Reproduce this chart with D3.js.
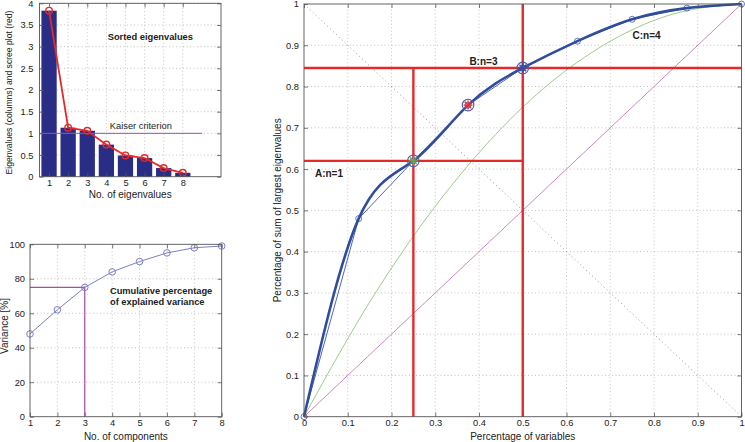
<!DOCTYPE html>
<html><head><meta charset="utf-8">
<script src="https://cdn.jsdelivr.net/npm/d3@7"></script>
<style>
body{margin:0;background:#fff}
svg{display:block}
text{font-family:"Liberation Sans",Arial,Helvetica,sans-serif;fill:#222}
</style></head>
<body><svg id="c" width="745" height="442"></svg>
<script>
// ---------- data ----------
const eigIndex = [1, 2, 3, 4, 5, 6, 7, 8];
const eigenvalues = [3.83, 1.13, 1.06, 0.74, 0.49, 0.43, 0.20, 0.09];
const kaiserLevel = 1;
const components = [1, 2, 3, 4, 5, 6, 7, 8];
const cumVariance = [48, 62, 75, 84, 90, 95, 98, 99];
const chosenComp = 3, chosenVar = 75;
const fracVars = [0, 0.125, 0.25, 0.375, 0.5, 0.625, 0.75, 0.875, 1];
const fracEig = [0, 0.48, 0.62, 0.755, 0.845, 0.91, 0.963, 0.99, 1];
const greenCurve = [0, 0.234, 0.4375, 0.609, 0.75, 0.859, 0.9375, 0.984, 1];
const guideH = [{y: 0.62, x1: 0, x2: 0.5}, {y: 0.845, x1: 0, x2: 1}];
const guideV = [{x: 0.25, y1: 0, y2: 0.845}, {x: 0.5, y1: 0, y2: 1}];
const points = [
  {label: "A:n=1", x: 0.25, y: 0.62, color: "#6aa84f", lx: 0.025, ly: 0.58},
  {label: "B:n=3", x: 0.375, y: 0.755, color: "#e53030", lx: 0.378, ly: 0.853},
  {label: "C:n=4", x: 0.5, y: 0.845, color: "#3a4fa0", lx: 0.751, ly: 0.916}
];
const ticks01 = [0, 0.1, 0.2, 0.3, 0.4, 0.5, 0.6, 0.7, 0.8, 0.9, 1];
const ticksEig = [0, 0.5, 1, 1.5, 2, 2.5, 3, 3.5, 4];
const ticksVar = [0, 20, 40, 60, 80, 100];

const svg = d3.select("#c");
const FONT = 9.3;

function frame(g, x, y, gridX, gridY) {
  const [x0, x1] = x.range(), [y0, y1] = y.range();
  const grid = g.append("g");
  (gridX || []).forEach(v => grid.append("line").attr("x1", x(v)).attr("x2", x(v)).attr("y1", y0).attr("y2", y1)
    .attr("stroke", "#b5b5b5").attr("stroke-width", 0.8).attr("stroke-dasharray", "1,2.5"));
  (gridY || []).forEach(v => grid.append("line").attr("y1", y(v)).attr("y2", y(v)).attr("x1", x0).attr("x2", x1)
    .attr("stroke", "#b5b5b5").attr("stroke-width", 0.8).attr("stroke-dasharray", "1,2.5"));
  return grid;
}
function axesBox(g, x, y, xt, yt, xfmt, yfmt, padX, padY) {
  const [x0, x1] = x.range(), [y0, y1] = y.range();
  const ax = g.append("g");
  ax.append("g").attr("transform", `translate(0,${y0})`)
    .call(d3.axisBottom(x).tickValues(xt).tickSize(-4).tickPadding(padX).tickFormat(xfmt))
    .call(s => { s.select(".domain").remove(); });
  ax.append("g").attr("transform", `translate(0,${y1})`)
    .call(d3.axisTop(x).tickValues(xt).tickSize(-4).tickFormat(""))
    .call(s => { s.select(".domain").remove(); });
  ax.append("g").attr("transform", `translate(${x0},0)`)
    .call(d3.axisLeft(y).tickValues(yt).tickSize(-4).tickPadding(padY).tickFormat(yfmt))
    .call(s => { s.select(".domain").remove(); });
  ax.append("g").attr("transform", `translate(${x1},0)`)
    .call(d3.axisRight(y).tickValues(yt).tickSize(-4).tickFormat(""))
    .call(s => { s.select(".domain").remove(); });
  ax.selectAll(".tick line").attr("stroke", "#555").attr("stroke-width", 0.8);
  ax.selectAll(".tick text").attr("font-size", FONT).attr("font-family", "Liberation Sans, Arial, sans-serif").attr("fill", "#222");
  ax.append("rect").attr("x", x0).attr("y", y1).attr("width", x1 - x0).attr("height", y0 - y1)
    .attr("fill", "none").attr("stroke", "#555").attr("stroke-width", 0.9);
}
const fmtNum = d => d3.format("")(d);

// ---------- panel 1: eigenvalues ----------
{
  const x = d3.scaleLinear().domain([0.5, 10]).range([39.5, 221]);
  const y = d3.scaleLinear().domain([0, 4]).range([176.7, 3.3]);
  const g = svg.append("g");
  frame(g, x, y, eigIndex.slice(1), ticksEig.slice(1));
  const bw = x(0.8) - x(0);
  g.selectAll("rect.bar").data(eigenvalues).join("rect").attr("class", "bar")
    .attr("x", (d, i) => x(eigIndex[i]) - bw / 2).attr("width", bw)
    .attr("y", d => y(d)).attr("height", d => y(0) - y(d)).attr("fill", "#2a2d86");
  g.append("line").attr("x1", x(0.5)).attr("x2", x(9)).attr("y1", y(kaiserLevel)).attr("y2", y(kaiserLevel))
    .attr("stroke", "#a64cb4").attr("stroke-width", 1);
  const line = d3.line().x((d, i) => x(eigIndex[i])).y(d => y(d));
  g.append("path").attr("d", line(eigenvalues)).attr("fill", "none").attr("stroke", "#e52a2a").attr("stroke-width", 1.8);
  g.selectAll("circle.sc").data(eigenvalues).join("circle").attr("class", "sc")
    .attr("cx", (d, i) => x(eigIndex[i])).attr("cy", d => y(d)).attr("r", 3.3)
    .attr("fill", "none").attr("stroke", "#e52a2a").attr("stroke-width", 1.4);
  axesBox(g, x, y, eigIndex, ticksEig, fmtNum, fmtNum, 3, 6);
  g.append("text").attr("x", x(4.07)).attr("y", y(3.15)).attr("font-size", 9.3).attr("font-weight", "bold").text("Sorted eigenvalues");
  g.append("text").attr("x", x(4.18)).attr("y", y(1.1)).attr("font-size", 9.3).text("Kaiser criterion");
  g.append("text").attr("x", (39.5 + 221) / 2).attr("y", 198).attr("text-anchor", "middle").attr("font-size", 10).text("No. of eigenvalues");
  g.append("text").attr("transform", `translate(11.5,92.5) rotate(-90)`).attr("text-anchor", "middle").attr("font-size", 8.6)
    .text("Eigenvalues (columns) and scree plot (red)");
}

// ---------- panel 2: cumulative variance ----------
{
  const x = d3.scaleLinear().domain([1, 8]).range([30, 221.7]);
  const y = d3.scaleLinear().domain([0, 100]).range([416.7, 244.3]);
  const g = svg.append("g");
  frame(g, x, y, components.slice(1, -1), ticksVar.slice(1, -1));
  g.append("path").attr("d", d3.line()([[x(1), y(chosenVar)], [x(chosenComp), y(chosenVar)], [x(chosenComp), y(0)]]))
    .attr("fill", "none").attr("stroke", "#b04aa6").attr("stroke-width", 1.2);
  const line = d3.line().x((d, i) => x(components[i])).y(d => y(d));
  g.append("path").attr("d", line(cumVariance)).attr("fill", "none").attr("stroke", "#7b7fc4").attr("stroke-width", 1);
  g.selectAll("circle.cv").data(cumVariance).join("circle").attr("class", "cv")
    .attr("cx", (d, i) => x(components[i])).attr("cy", d => y(d)).attr("r", 3.3)
    .attr("fill", "none").attr("stroke", "#7b7fc4").attr("stroke-width", 1);
  axesBox(g, x, y, components, ticksVar, fmtNum, fmtNum, 3, 5);
  g.append("text").attr("x", x(3.92)).attr("y", y(71.2)).attr("font-size", 9.3).attr("font-weight", "bold").text("Cumulative percentage");
  g.append("text").attr("x", x(3.92)).attr("y", y(64.8)).attr("font-size", 9.3).attr("font-weight", "bold").text("of explained variance");
  g.append("text").attr("x", (30 + 221.7) / 2).attr("y", 439.5).attr("text-anchor", "middle").attr("font-size", 10).text("No. of components");
  g.append("text").attr("transform", `translate(7.5,326) rotate(-90)`).attr("text-anchor", "middle").attr("font-size", 10)
    .text("Variance [%]");
}

// ---------- panel 3: fraction plot ----------
{
  const x = d3.scaleLinear().domain([0, 1]).range([304, 741.5]);
  const y = d3.scaleLinear().domain([0, 1]).range([416.7, 4]);
  const g = svg.append("g");
  frame(g, x, y, ticks01.slice(1, -1), ticks01.slice(1, -1));
  g.append("line").attr("x1", x(0)).attr("y1", y(1)).attr("x2", x(1)).attr("y2", y(0))
    .attr("stroke", "#7a7a7a").attr("stroke-width", 0.8).attr("stroke-dasharray", "1,3");
  g.append("line").attr("x1", x(0)).attr("y1", y(0)).attr("x2", x(1)).attr("y2", y(1))
    .attr("stroke", "#c57ab8").attr("stroke-width", 0.9);
  const curve = d3.line().x((d, i) => x(fracVars[i])).y(d => y(d)).curve(d3.curveNatural);
  g.append("path").attr("d", curve(greenCurve)).attr("fill", "none").attr("stroke", "#93c47d").attr("stroke-width", 0.9);
  g.selectAll("line.gh").data(guideH).join("line").attr("class", "gh")
    .attr("x1", d => x(d.x1)).attr("x2", d => x(d.x2)).attr("y1", d => y(d.y)).attr("y2", d => y(d.y))
    .attr("stroke", "#e52a2a").attr("stroke-width", 2.4);
  g.selectAll("line.gv").data(guideV).join("line").attr("class", "gv")
    .attr("y1", d => y(d.y1)).attr("y2", d => y(d.y2)).attr("x1", d => x(d.x)).attr("x2", d => x(d.x))
    .attr("stroke", "#e52a2a").attr("stroke-width", 2.4);
  const poly = d3.line().x((d, i) => x(fracVars[i])).y(d => y(d));
  g.append("path").attr("d", poly(fracEig)).attr("fill", "none").attr("stroke", "#3d55a8").attr("stroke-width", 0.9);
  g.selectAll("circle.fm").data(fracEig).join("circle").attr("class", "fm")
    .attr("cx", (d, i) => x(fracVars[i])).attr("cy", d => y(d)).attr("r", 3)
    .attr("fill", "none").attr("stroke", "#3d55a8").attr("stroke-width", 0.8);
  g.append("path").attr("d", curve(fracEig)).attr("fill", "none").attr("stroke", "#2f4c9e").attr("stroke-width", 2.6);
  points.forEach(p => {
    const cx = x(p.x), cy = y(p.y), s = 4.5, s2 = 3.3;
    g.append("circle").attr("cx", cx).attr("cy", cy).attr("r", 5.8).attr("fill", "none").attr("stroke", "#4b5ca8").attr("stroke-width", 1.1);
    const ast = g.append("g").attr("stroke", p.color).attr("stroke-width", 1.3);
    ast.append("line").attr("x1", cx - s).attr("x2", cx + s).attr("y1", cy).attr("y2", cy);
    ast.append("line").attr("x1", cx).attr("x2", cx).attr("y1", cy - s).attr("y2", cy + s);
    ast.append("line").attr("x1", cx - s2).attr("x2", cx + s2).attr("y1", cy - s2).attr("y2", cy + s2);
    ast.append("line").attr("x1", cx - s2).attr("x2", cx + s2).attr("y1", cy + s2).attr("y2", cy - s2);
    g.append("text").attr("x", x(p.lx)).attr("y", y(p.ly)).attr("font-size", 10).attr("font-weight", "bold").text(p.label);
  });
  axesBox(g, x, y, ticks01, ticks01, fmtNum, fmtNum, 3, 5);
  g.append("text").attr("x", (304 + 741.5) / 2).attr("y", 440).attr("text-anchor", "middle").attr("font-size", 10).text("Percentage of variables");
  g.append("text").attr("transform", `translate(281,${(416.7 + 4) / 2}) rotate(-90)`).attr("text-anchor", "middle").attr("font-size", 10)
    .text("Percentage of sum of largest eigenvalues");
}
</script></body></html>
